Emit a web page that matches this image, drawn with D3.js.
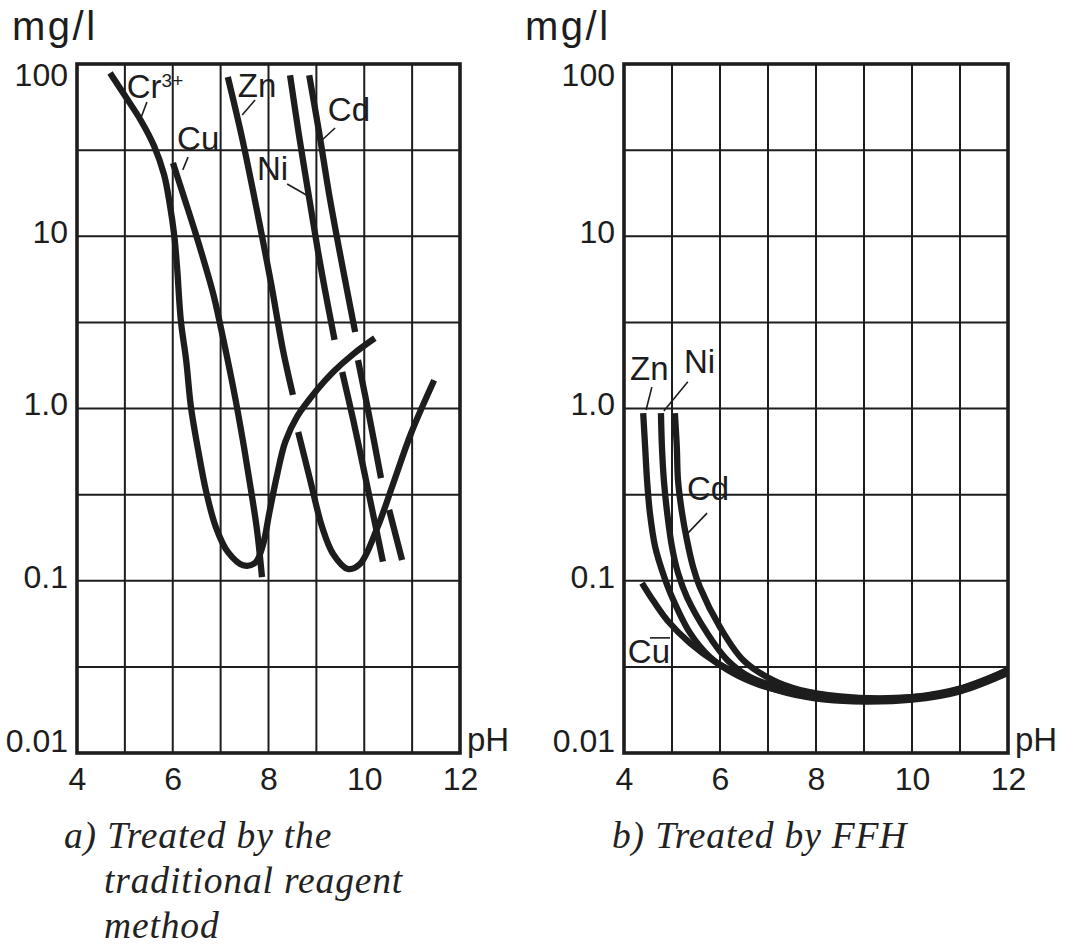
<!DOCTYPE html>
<html>
<head>
<meta charset="utf-8">
<script src="https://cdn.jsdelivr.net/npm/d3@7"></script>
<style>
body { margin: 0; background: #fff; }
svg { display: block; }
</style>
</head>
<body>
<div id="chart"></div>
<script>
var ink = "#1d1d1d";
var sans = "'Liberation Sans', Arial, Helvetica, sans-serif";
var serif = "'Liberation Serif', 'Times New Roman', serif";

// axes
var xTicks = [4, 6, 8, 10, 12];
var xGrid = [5, 6, 7, 8, 9, 10, 11];
var yTicks = [100, 10, 1, 0.1, 0.01];
var yTickLabels = ["100", "10", "1.0", "0.1", "0.01"];
var yGrid = [31.62, 10, 3.162, 1, 0.3162, 0.1, 0.03162];

// a) traditional reagent method  [pH, mg/l], null = break in the line
var crA = [[4.69,88.7],[5.02,64.3],[5.34,46.7],[5.61,33.4],[5.82,22.7],[5.94,15.2],[6.03,10.2],[6.09,6.62],
  [6.17,3.22],[6.28,1.91],[6.38,1.02],[6.53,0.574],[6.70,0.327],[6.90,0.205],[7.15,0.147],[7.47,0.123],
  [7.72,0.127],[7.88,0.16],[8.02,0.25],[8.17,0.40],[8.35,0.64],[8.60,0.90],[9.01,1.28],[9.35,1.63],
  [9.77,2.07],[10.22,2.56]];
var cuA = [[6.005,26.6],[6.256,16.2],[6.486,10.2],[6.736,5.96],[6.862,4.44],[7.091,2.27],[7.30,1.17],
  [7.488,0.597],[7.634,0.336],[7.76,0.197],[7.864,0.105]];
var znA = [[7.15,84],[7.45,37],[7.75,14.5],[8.05,5.4],[8.30,2.2],[8.51,1.2], null,
  [8.62,0.731],[8.87,0.385],[9.12,0.205],[9.35,0.143],[9.66,0.117],[9.91,0.125],[10.27,0.202],
  [10.58,0.350],[10.98,0.721],[11.46,1.46]];
var niA = [[8.45,86],[8.63,39.7],[8.84,17.3],[9.03,8.3],[9.18,4.87],[9.38,2.50], null,
  [9.54,1.63],[9.77,0.857],[9.97,0.470],[10.18,0.247],[10.39,0.129]];
var cdA = [[8.85,86],[9.06,39.7],[9.27,17.3],[9.48,8.3],[9.64,4.87],[9.81,2.78], null,
  [9.87,1.91],[10.12,0.857],[10.35,0.394], null, [10.52,0.258],[10.79,0.132]];

// b) FFH
var znB = [[4.40,0.94],[4.44,0.60],[4.48,0.385],[4.54,0.247],[4.65,0.157],[4.81,0.111],[5.0,0.0805],
  [5.375,0.0498],[5.79,0.0361],[6.27,0.0291],[6.83,0.0248],[7.5,0.0222],[8.2,0.0209],[9,0.0204],
  [10,0.0209],[11,0.0234],[12,0.0300]];
var niB = [[4.77,0.94],[4.79,0.60],[4.83,0.385],[4.90,0.247],[5.0,0.157],[5.125,0.111],[5.31,0.0805],
  [5.73,0.0498],[6.15,0.0347],[6.625,0.0276],[7.3,0.0238],[8.1,0.0214],[9,0.0206],[10,0.0211],
  [11,0.0237],[12,0.0302]];
var cdB = [[5.06,0.94],[5.10,0.60],[5.125,0.385],[5.21,0.247],[5.31,0.173],[5.44,0.120],[5.58,0.092],
  [6.0,0.0538],[6.48,0.0347],[7.10,0.0265],[7.67,0.0232],[8.5,0.0213],[9.5,0.0208],[10.5,0.0218],
  [11.3,0.0250],[12,0.0305]];
var cuB = [[4.375,0.097],[4.60,0.0773],[4.90,0.059],[5.375,0.0435],[5.94,0.0333],[6.625,0.0265],
  [7.40,0.0223],[8.2,0.0204],[9,0.0199],[10,0.0204],[11,0.0228],[12,0.0292]];

// curve labels, in data coords, with leader line
var labelsA = [
  { name: "Cr", sup: "3+", at: [5.04, 63.5], lead: [[5.46, 60.1], [5.32, 47.3]] },
  { name: "Cu", at: [6.09, 31.7], lead: [[6.32, 28.8], [6.21, 24.3]] },
  { name: "Zn", at: [7.36, 64.3], lead: [[7.72, 61.8], [7.45, 50.6]] },
  { name: "Cd", at: [9.24, 46.7], lead: [[9.39, 42.5], [9.12, 36.2]] },
  { name: "Ni", at: [7.76, 21.2], lead: [[8.39, 20.1], [8.80, 17.3]] }
];
var labelsB = [
  { name: "Zn", at: [4.125, 1.46], lead: [[4.58, 1.33], [4.46, 0.98]] },
  { name: "Ni", at: [5.25, 1.61], lead: [[5.33, 1.43], [4.83, 0.966]] },
  { name: "Cd", at: [5.31, 0.294], lead: [[5.73, 0.247], [5.33, 0.189]] },
  { name: "Cu", at: [4.08, 0.0333], lead: [[4.54, 0.0466], [4.96, 0.0466]] }
];

var subtitleA = ["a) Treated by the", "traditional reagent", "method"];
var subtitleB = ["b) Treated by FFH"];

var plotTop = 64, plotBottom = 753;

var svg = d3.select("#chart").append("svg")
  .attr("width", 1075)
  .attr("height", 945);

function drawPanel(cfg) {
  var g = svg.append("g");
  var x = d3.scaleLinear().domain([4, 12]).range([cfg.left, cfg.right]);
  var y = d3.scaleLog().domain([0.01, 100]).range([plotBottom, plotTop]);

  g.selectAll(".vg").data(xGrid).enter().append("line")
    .attr("x1", function(d) { return x(d); }).attr("x2", function(d) { return x(d); })
    .attr("y1", plotTop).attr("y2", plotBottom)
    .attr("stroke", ink).attr("stroke-width", 2);
  g.selectAll(".hg").data(yGrid).enter().append("line")
    .attr("y1", function(d) { return y(d); }).attr("y2", function(d) { return y(d); })
    .attr("x1", cfg.left).attr("x2", cfg.right)
    .attr("stroke", ink).attr("stroke-width", 2);

  var line = d3.line()
    .defined(function(d) { return d !== null; })
    .x(function(d) { return x(d[0]); })
    .y(function(d) { return y(d[1]); })
    .curve(d3.curveCatmullRom.alpha(0.5));

  g.selectAll(".curve").data(cfg.series).enter().append("path")
    .attr("d", line)
    .attr("fill", "none")
    .attr("stroke", ink)
    .attr("stroke-width", 6.3)
    .attr("stroke-linecap", "butt");

  g.append("rect")
    .attr("x", cfg.left).attr("y", plotTop)
    .attr("width", cfg.right - cfg.left).attr("height", plotBottom - plotTop)
    .attr("fill", "none").attr("stroke", ink).attr("stroke-width", 3.6);

  // labels
  cfg.labels.forEach(function(l) {
    g.append("line")
      .attr("x1", x(l.lead[0][0])).attr("y1", y(l.lead[0][1]))
      .attr("x2", x(l.lead[1][0])).attr("y2", y(l.lead[1][1]))
      .attr("stroke", ink).attr("stroke-width", 1.6);
    var t = g.append("text")
      .attr("x", x(l.at[0])).attr("y", y(l.at[1]))
      .attr("font-family", sans).attr("font-size", 33)
      .attr("fill", ink)
      .text(l.name);
    if (l.sup) {
      t.append("tspan").attr("font-size", 19).attr("dy", -11).text(l.sup);
    }
  });

  // axes
  var ax = g.append("g")
    .attr("transform", "translate(0," + plotBottom + ")")
    .call(d3.axisBottom(x).tickValues(xTicks).tickSize(0).tickPadding(14).tickFormat(d3.format("d")));
  var ay = g.append("g")
    .attr("transform", "translate(" + cfg.left + ",0)")
    .call(d3.axisLeft(y).tickValues(yTicks).tickSize(0).tickPadding(9)
      .tickFormat(function(d, i) { return yTickLabels[i]; }));
  [ax, ay].forEach(function(a) {
    a.select(".domain").remove();
    a.selectAll("text").attr("font-family", sans).attr("font-size", 32).attr("fill", ink);
  });
  ay.selectAll("text").attr("y", function(d) {
    var p = y(d);
    return Math.max(plotTop + 11, Math.min(plotBottom - 12, p - 4)) - p;
  });

  g.append("text")
    .attr("x", cfg.right + 7).attr("y", plotBottom - 2)
    .attr("font-family", sans).attr("font-size", 33).attr("fill", ink)
    .text("pH");
  g.append("text")
    .attr("x", cfg.unitX).attr("y", 40)
    .attr("font-family", sans).attr("font-size", 40)
    .attr("letter-spacing", 2.5).attr("fill", ink)
    .text("mg/l");

  g.selectAll(".sub").data(cfg.subtitle).enter().append("text")
    .attr("x", function(d, i) { return i === 0 ? cfg.subX : cfg.subX + 40; })
    .attr("y", function(d, i) { return 848 + i * 45; })
    .attr("font-family", serif).attr("font-style", "italic")
    .attr("font-size", 37.5).attr("letter-spacing", 0.85)
    .attr("fill", "#222")
    .text(function(d) { return d; });
}

drawPanel({ left: 77, right: 460, unitX: 12, subX: 64,
  series: [crA, cuA, znA, niA, cdA], labels: labelsA, subtitle: subtitleA });
drawPanel({ left: 624, right: 1008, unitX: 525, subX: 612,
  series: [znB, niB, cdB, cuB], labels: labelsB, subtitle: subtitleB });
</script>
</body>
</html>
